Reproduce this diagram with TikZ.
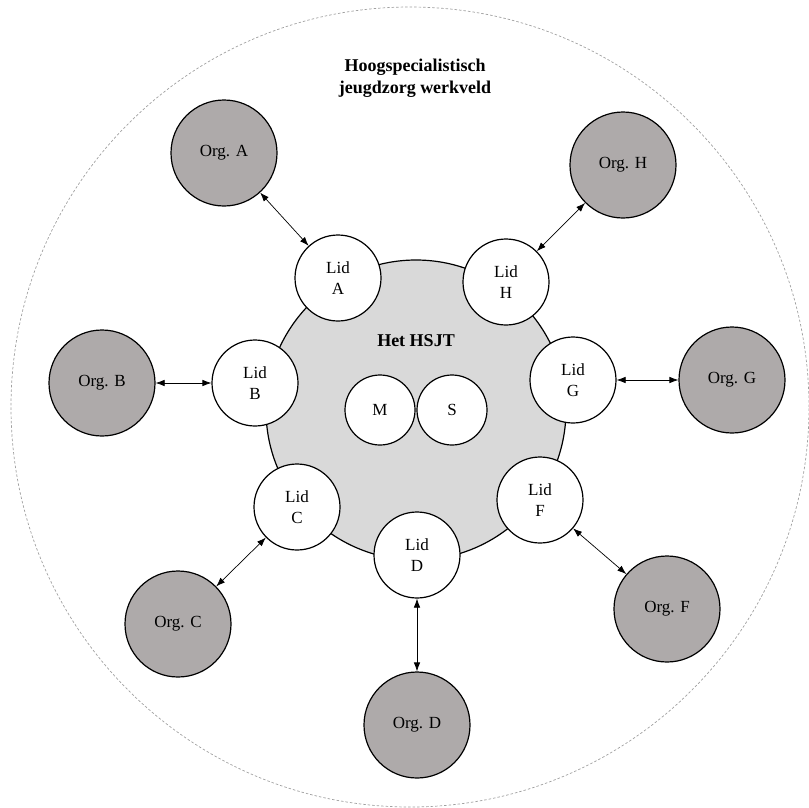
\documentclass[tikz,border=0pt]{standalone}
\usepackage{fontspec}
\setmainfont{Liberation Serif}
\usetikzlibrary{arrows.meta}
\definecolor{orggray}{HTML}{AEAAAA}
\definecolor{hsjtgray}{HTML}{D9D9D9}
\definecolor{dashgray}{HTML}{A0A0A0}
\begin{document}
\begin{tikzpicture}[x=1pt,y=-1pt,
  org/.style={circle,draw=black,fill=orggray,line width=1.2pt,minimum size=106pt,inner sep=0pt,font=\fontsize{17}{20}\selectfont},
  lid/.style={circle,draw=black,fill=white,line width=1.2pt,minimum size=86pt,inner sep=0pt,align=center,font=\fontsize{17}{21}\selectfont},
  ms/.style={circle,draw=black,fill=white,line width=1.2pt,minimum size=70pt,inner sep=0pt,font=\fontsize{17}{20}\selectfont},
  link/.style={{Latex[length=9pt,width=6.5pt]}-{Latex[length=9pt,width=6.5pt]},line width=0.7pt,draw=black},
  boldlabel/.style={font=\fontsize{18}{22}\selectfont\bfseries,align=center,inner sep=0pt}
]
\useasboundingbox (0,0) rectangle (809,807);
% outer field
\draw[dashgray,line width=0.7pt,dash pattern=on 2.5pt off 2pt] (410,407) ellipse [x radius=399pt, y radius=400pt];
\node[boldlabel] (title) at (415,78) {Hoogspecialistisch\\jeugdzorg werkveld};
% HSJT
\node[circle,draw=black,fill=hsjtgray,line width=1.2pt,minimum size=300pt,inner sep=0pt] (hsjt) at (416,410) {};
\node[boldlabel] (hsjtlabel) at (416,341) {Het HSJT};
\node[ms] (m) at (380,410) {M};
\node[ms] (s) at (452,410) {S};
% members
\node[lid] (lidA) at (338,278) {Lid\\A};
\node[lid] (lidH) at (506,282) {Lid\\H};
\node[lid] (lidB) at (255,383) {Lid\\B};
\node[lid] (lidG) at (573,380) {Lid\\G};
\node[lid] (lidC) at (297,507) {Lid\\C};
\node[lid] (lidD) at (417,555) {Lid\\D};
\node[lid] (lidF) at (540,500) {Lid\\F};
% organisations
\node[org] (orgA) at (224,153) {Org. A};
\node[org] (orgH) at (623,165) {Org. H};
\node[org] (orgB) at (102,383) {Org. B};
\node[org] (orgG) at (732,380) {Org. G};
\node[org] (orgC) at (178,624) {Org. C};
\node[org] (orgD) at (417,725) {Org. D};
\node[org] (orgF) at (667,609) {Org. F};
% links
\draw[link] (orgA) -- (lidA);
\draw[link] (orgH) -- (lidH);
\draw[link] (orgB) -- (lidB);
\draw[link] (orgG) -- (lidG);
\draw[link] (orgC) -- (lidC);
\draw[link] (orgD) -- (lidD);
\draw[link] (orgF) -- (lidF);
\end{tikzpicture}
\end{document}
